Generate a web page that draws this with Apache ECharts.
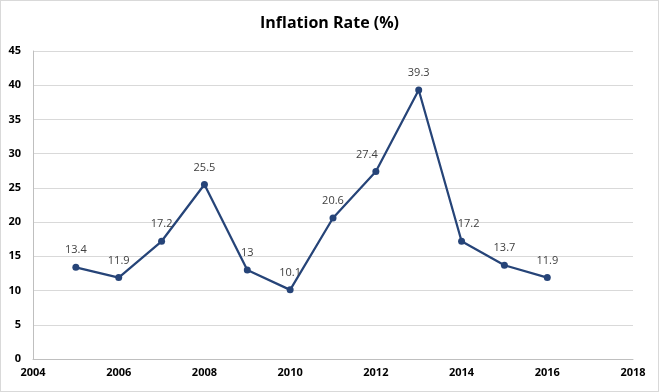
<!DOCTYPE html>
<html><head><meta charset="utf-8">
<script src="https://cdn.jsdelivr.net/npm/echarts@6/dist/echarts.min.js"></script>
<style>html,body{margin:0;padding:0;background:#fff}#c{width:659px;height:392px;box-sizing:border-box;border:1px solid #d9d9d9}</style>
</head><body><div id="c"></div>
<script>
const years = [2005,2006,2007,2008,2009,2010,2011,2012,2013,2014,2015,2016];
const inflation = [13.4,11.9,17.2,25.5,13,10.1,20.6,27.4,39.3,17.2,13.7,11.9];
const xTicks = [2004,2006,2008,2010,2012,2014,2016,2018];
const labelShift = {2012:[-9,0],2014:[7,0]};
const chart = echarts.init(document.getElementById('c'));
chart.setOption({
  animation:false,
  title:{text:'Inflation Rate (%)',left:'center',top:9,textStyle:{fontFamily:'Open Sans',fontWeight:'bold',fontSize:16,color:'#000'}},
  grid:{left:32,right:25,top:50,bottom:32},
  xAxis:{type:'value',min:xTicks[0],max:xTicks[xTicks.length-1],interval:2,
    axisLine:{show:true,lineStyle:{color:'#bfbfbf'}},axisTick:{show:false},splitLine:{show:false},
    axisLabel:{color:'#000',fontWeight:'bold',fontSize:11,fontFamily:'Open Sans',margin:8,formatter:v=>String(v)}},
  yAxis:{type:'value',min:0,max:45,interval:5,
    axisLine:{show:true,lineStyle:{color:'#bfbfbf'}},axisTick:{show:false},
    splitLine:{lineStyle:{color:'#d9d9d9'}},
    axisLabel:{color:'#000',fontWeight:'bold',fontSize:11,fontFamily:'Open Sans',margin:12}},
  series:[{type:'line',data:years.map((y,i)=>{
      const d={value:[y,inflation[i]]};
      if(labelShift[y]) d.label={offset:labelShift[y]};
      return d;}),
    lineStyle:{color:'#264478',width:2.25},itemStyle:{color:'#264478'},
    symbol:'circle',symbolSize:7,
    label:{show:true,position:'top',distance:8,color:'#404040',fontSize:11,fontFamily:'Open Sans',formatter:p=>String(p.value[1])}}]
});
</script></body></html>
